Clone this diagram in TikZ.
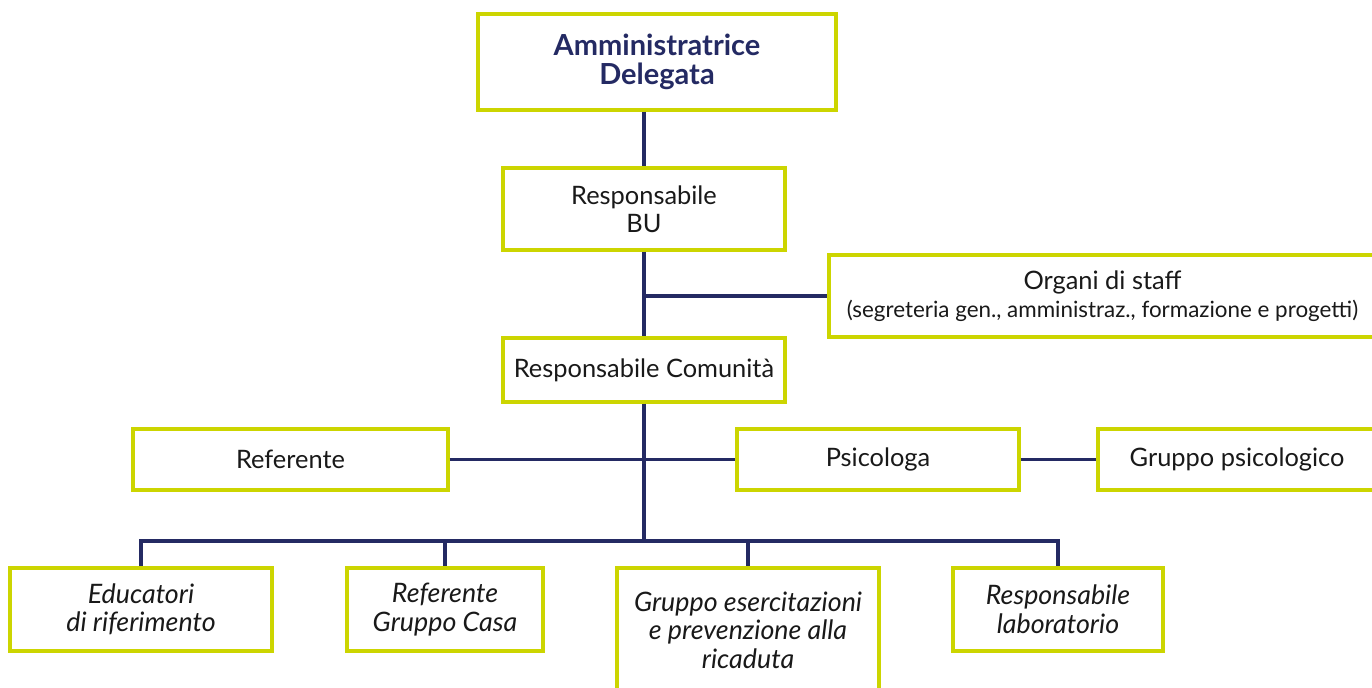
\documentclass[tikz,border=0pt]{standalone}
\usepackage{fontspec}
\setmainfont{Lato}
\definecolor{lime}{HTML}{CCD500}
\definecolor{navy}{HTML}{242A63}
\tikzstyle{box}=[draw=lime, line width=1.6pt, fill=white, align=center, inner sep=0pt, font=\fontsize{12.7}{14.2}\selectfont, text=black!90]
\tikzstyle{role}=[box, font=\fontsize{13.4}{14.3}\selectfont\itshape]
\tikzstyle{edge} = [draw=navy, line width=1.6pt]

\begin{document}
\begin{tikzpicture}[x=0.5pt, y=-0.5pt]
    \useasboundingbox (0,0) rectangle (1372,688);

    % top of the chart
    \node[box, minimum width=179pt, minimum height=48pt, text=navy, font=\fontsize{14.5}{14.2}\selectfont\bfseries] (ad) at (657,62) {Amministratrice\\Delegata};
    \node[box, minimum width=141pt, minimum height=41pt] (bu) at (644,209) {Responsabile\\BU};
    \node[box, minimum width=273.5pt, minimum height=41pt] (staff) at (1102.5,296)
        {Organi di staff\\{\fontsize{11.2}{14.2}\selectfont(segreteria gen., amministraz., formazione e progetti)}};
    \node[box, minimum width=141pt, minimum height=32pt] (com) at (644,370) {Responsabile Comunità};

    % middle row
    \foreach \pos/\name/\w/\txt in {
                            {(290.5,459.5)/ref/157.5pt/Referente},
                            {(878,459.5)/psi/141pt/Psicologa},
                            {(1237,459.5)/gps/139pt/Gruppo psicologico}}
        \node[box, minimum width=\w, minimum height=30.5pt] (\name) at \pos {\txt};

    % bottom row
    \foreach \pos/\name/\w/\h/\txt in {
                            {(141,609.5)/edu/131pt/41.5pt/Educatori\\di riferimento},
                            {(445,609.5)/rgc/98pt/41.5pt/Referente\\Gruppo Casa},
                            {(748,630)/ges/131pt/62pt/Gruppo esercitazioni\\e prevenzione alla\\ricaduta},
                            {(1058,609.5)/lab/105pt/41.5pt/Responsabile\\laboratorio}}
        \node[role, minimum width=\w, minimum height=\h] (\name) at \pos {\txt};

    \coordinate (st) at (644,296);
    \coordinate (bus) at (644,541);

    % Connect the boxes
    \draw[edge] (bu |- ad.south) -- (bu);
    \draw[edge] (bu) -- (com);
    \draw[edge] (st) -- (staff);
    \draw[edge] (com) -- (bus);
    \draw[edge] (ref) -- (psi);
    \draw[edge] (psi) -- (gps);
    \foreach \name in {edu, rgc, ges, lab}
        \draw[edge] (bus) -| (\name);

\end{tikzpicture}
\end{document}
